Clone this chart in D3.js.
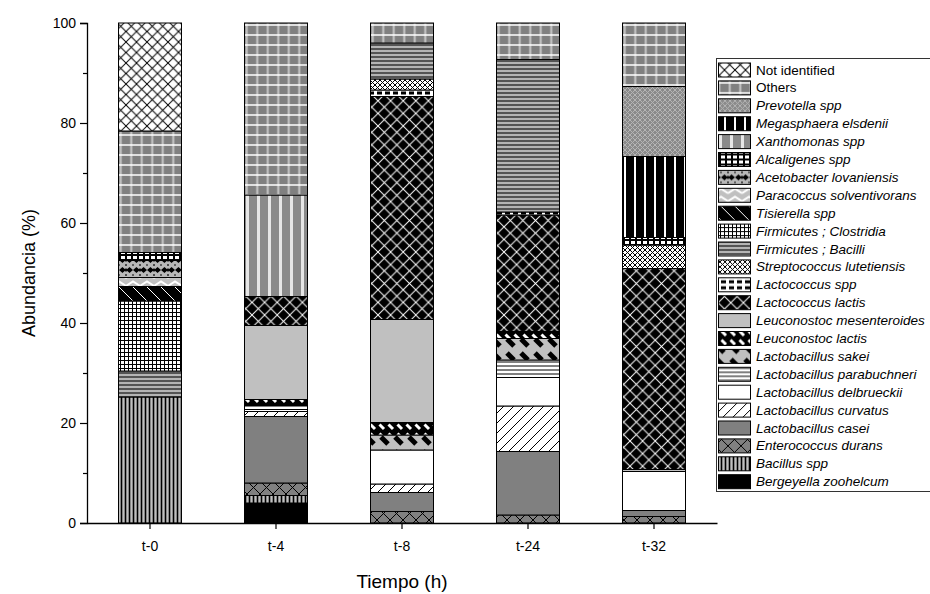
<!DOCTYPE html>
<html>
<head>
<meta charset="utf-8">
<script src="https://cdn.jsdelivr.net/npm/d3@7"></script>
<style>
  body { margin: 0; background: #fff; }
  svg { font-family: "Liberation Sans", Arial, sans-serif; }
</style>
</head>
<body>
<div id="chart"></div>
<script>
// time points on the x axis
const categories = ['t-0', 't-4', 't-8', 't-24', 't-32'];

// taxa, in stacking order (bottom of the bar first)
const taxa = [
  'Bergeyella zoohelcum', 'Bacillus spp', 'Enterococcus durans', 'Lactobacillus casei',
  'Lactobacillus curvatus', 'Lactobacillus delbrueckii', 'Lactobacillus parabuchneri',
  'Lactobacillus sakei', 'Leuconostoc lactis', 'Leuconostoc mesenteroides',
  'Lactococcus lactis', 'Lactococcus spp', 'Streptococcus lutetiensis',
  'Firmicutes ; Bacilli', 'Firmicutes ; Clostridia', 'Tisierella spp',
  'Paracoccus solventivorans', 'Acetobacter lovaniensis', 'Alcaligenes spp',
  'Xanthomonas spp', 'Megasphaera elsdenii', 'Prevotella spp', 'Others', 'Not identified'
];
// names written upright in the legend
const upright = ['Others', 'Not identified'];

// abundance (%) per time point, same order as taxa
const t0  = [0, 25.2, 0, 0, 0, 0, 0, 0, 0, 0, 0, 0, 0, 5.2, 14.0, 2.9, 1.8, 3.4, 1.6, 0, 0, 0, 24.3, 21.6];
const t4  = [4.0, 1.5, 2.5, 13.3, 1.0, 0.4, 0.8, 0, 1.2, 14.8, 5.8, 0, 0, 0, 0, 0, 0, 0, 0, 20.3, 0, 0, 34.4, 0];
const t8  = [0, 0, 2.3, 3.8, 1.7, 6.8, 0, 3.0, 2.5, 20.6, 44.6, 1.3, 2.2, 7.2, 0, 0, 0, 0, 0, 0, 0, 0, 4.0, 0];
const t24 = [0, 0, 1.6, 12.7, 9.1, 5.7, 3.5, 4.3, 1.4, 0, 23.3, 0.6, 0, 30.5, 0, 0, 0, 0, 0, 0, 0, 0, 7.3, 0];
const t32 = [0, 0, 1.3, 1.2, 0, 7.8, 0, 0, 0, 0.4, 40.2, 0, 4.7, 0, 0, 0, 0, 0, 1.5, 0, 16.2, 14.0, 12.7, 0];
const series = [t0, t4, t8, t24, t32];

const yTicks = [0, 20, 40, 60, 80, 100];
const yMinor = [10, 30, 50, 70, 90];

var width = 930, height = 594;
var plotLeft = 87, plotRight = 717, plotTop = 23, plotBottom = 523;

const svg = d3.select('#chart').append('svg')
  .attr('width', width)
  .attr('height', height);

const defs = svg.append('defs');

// fill patterns, one per taxon
function pat(id, w, h, bg, draw) {
  const p = defs.append('pattern')
    .attr('id', id)
    .attr('patternUnits', 'userSpaceOnUse')
    .attr('width', w)
    .attr('height', h);
  p.append('rect').attr('width', w).attr('height', h).attr('fill', bg);
  if (draw) draw(p);
}
function line(p, d, color, sw) {
  p.append('path').attr('d', d).attr('stroke', color).attr('stroke-width', sw).attr('fill', 'none');
}

pat('p0', 10, 10, '#000');
pat('p1', 4, 4, '#c0c0c0', p => line(p, 'M1.5,0V4', '#000', 1.6));
pat('p2', 13, 13, '#808080', p => line(p, 'M0,0L13,13M13,0L0,13', '#000', 1));
pat('p3', 10, 10, '#808080');
pat('p4', 10, 10, '#fff', p => line(p, 'M0,10L10,0M-1,1L1,-1M9,11L11,9', '#000', 1));
pat('p5', 10, 10, '#fff');
pat('p6', 4, 4, '#fff', p => line(p, 'M0,2H4', '#000', 1));
pat('p7', 14, 14, '#c0c0c0', p => line(p, 'M3,3L10,10', '#000', 5));
pat('p8', 9, 9, '#000', p => line(p, 'M1.5,1.5L6,6', '#fff', 3));
pat('p9', 10, 10, '#c0c0c0');
pat('p10', 12.6, 12.6, '#000', p => line(p, 'M0,0L12.6,12.6M12.6,0L0,12.6', '#fff', 1));
pat('p11', 8, 6, '#fff', p => p.append('rect').attr('x', 1).attr('y', 1.5).attr('width', 5).attr('height', 3).attr('fill', '#000'));
pat('p12', 5, 5, '#fff', p => line(p, 'M0,0L5,5M5,0L0,5', '#000', 1));
pat('p13', 4, 4, '#b4b4b4', p => line(p, 'M0,1H4', '#333', 1.5));
pat('p14', 4, 4, '#fff', p => line(p, 'M0,0.5H4M0.5,0V4', '#000', 1));
pat('p15', 14, 14, '#000', p => line(p, 'M0,0L14,14', '#fff', 1));
pat('p16', 14, 8, '#c0c0c0', p => line(p, 'M0,6L7,1.5L14,6', '#fff', 2));
pat('p17', 14, 10, '#000', p => {
  line(p, 'M0,2L7,8L14,2', '#b8b8b8', 3);
  line(p, 'M0,8L7,2L14,8', '#b8b8b8', 3);
});
pat('p18', 6, 5, '#000', p => p.append('rect').attr('x', 1).attr('y', 1).attr('width', 4).attr('height', 3).attr('fill', '#fff'));
pat('p19', 11, 10, '#8a8a8a', p => line(p, 'M5.5,0V10', '#e6e6e6', 3));
pat('p20', 10, 10, '#000', p => line(p, 'M5,0V10', '#fff', 2));
pat('p21', 5, 5, '#8a8a8a', p => line(p, 'M0,0L5,5M5,0L0,5', '#b4b4b4', 1));
pat('p22', 10.5, 10, '#808080', p => {
  line(p, 'M5.25,0V10', '#c8c8c8', 2);
  line(p, 'M0,5H10.5', '#fff', 1.5);
});
pat('p23', 10.5, 10.5, '#fff', p => line(p, 'M0,0L10.5,10.5M10.5,0L0,10.5', '#000', 1));

// scales
const x = d3.scaleBand()
  .domain(categories)
  .range([plotLeft, plotRight])
  .paddingInner(0.5)
  .paddingOuter(0.25);

const y = d3.scaleLinear()
  .domain([0, 100])
  .range([plotBottom, plotTop]);

// stacked bars
const rows = categories.map((c, i) => {
  const r = { cat: c };
  taxa.forEach((t, j) => r[t] = series[i][j]);
  return r;
});
const stacked = d3.stack().keys(taxa)(rows);

stacked.forEach((layer, j) => {
  svg.append('g')
    .selectAll('rect')
    .data(layer.filter(d => d[1] - d[0] > 0))
    .enter().append('rect')
      .attr('x', d => x(d.data.cat))
      .attr('y', d => y(d[1]))
      .attr('width', x.bandwidth())
      .attr('height', d => y(d[0]) - y(d[1]))
      .attr('fill', 'url(#p' + j + ')')
      .attr('stroke', '#000')
      .attr('stroke-width', 1);
});

// axes
svg.append('g')
  .attr('transform', 'translate(' + plotLeft + ',0)')
  .call(d3.axisLeft(y).tickValues(yTicks).tickSize(7).tickPadding(4));
svg.append('g')
  .attr('transform', 'translate(' + plotLeft + ',0)')
  .call(d3.axisLeft(y).tickValues(yMinor).tickSize(4).tickFormat(''))
  .select('.domain').remove();

svg.append('g')
  .attr('transform', 'translate(0,' + plotBottom + ')')
  .call(d3.axisBottom(x).tickSize(6).tickPadding(12).tickSizeOuter(0));

svg.selectAll('.domain').attr('stroke', '#000').attr('stroke-width', 1.3);
svg.selectAll('.tick line').attr('stroke', '#000').attr('stroke-width', 1.2);
svg.selectAll('.tick text')
  .attr('fill', '#000')
  .style('font-size', '14px')
  .style('font-family', '"Liberation Sans", Arial, sans-serif');

// axis titles
svg.append('text')
  .attr('transform', 'translate(35,' + ((plotTop + plotBottom) / 2) + ') rotate(-90)')
  .attr('text-anchor', 'middle')
  .style('font-size', '18px')
  .text('Abundancia (%)');

svg.append('text')
  .attr('x', 402)
  .attr('y', 588)
  .attr('text-anchor', 'middle')
  .style('font-size', '19px')
  .text('Tiempo (h)');

// legend (top entry = top of the stack)
const legendItems = taxa.map((t, j) => ({ name: t, id: j })).reverse();
const legend = svg.append('g');
legend.append('rect')
  .attr('x', 716.5)
  .attr('y', 58.5)
  .attr('width', 240)
  .attr('height', 433)
  .attr('fill', '#fff')
  .attr('stroke', '#333')
  .attr('stroke-width', 1);

const item = legend.selectAll('g.item')
  .data(legendItems)
  .enter().append('g')
    .attr('class', 'item')
    .attr('transform', (d, i) => 'translate(0,' + (70 + i * 17.9) + ')');

item.append('rect')
  .attr('x', 718.5)
  .attr('y', -7)
  .attr('width', 32)
  .attr('height', 14)
  .attr('fill', d => 'url(#p' + d.id + ')')
  .attr('stroke', '#000')
  .attr('stroke-width', 1);

item.append('text')
  .attr('x', 756)
  .attr('y', 4.5)
  .style('font-size', '13.5px')
  .style('font-style', d => upright.includes(d.name) ? 'normal' : 'italic')
  .text(d => d.name);
</script>
</body>
</html>
